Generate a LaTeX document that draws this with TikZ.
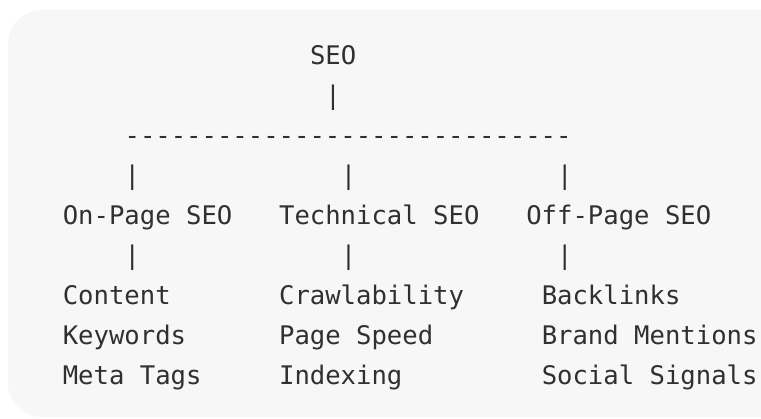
\documentclass[tikz,border=0pt]{standalone}
\usepackage{fontspec}
\newfontfamily\codefont{DejaVu Sans Mono}
\definecolor{bg}{HTML}{F7F7F7}
\definecolor{ink}{HTML}{303030}
\newcommand\cx[1]{62.8+15.45*#1}
\newcommand\ry[1]{65+40*#1}
\begin{document}
\begin{tikzpicture}[x=1pt,y=-1pt,
  txt/.style={anchor=base west, inner sep=0pt, outer sep=0pt, text=ink,
    font=\codefont\fontsize{25.6}{30}\selectfont}]
\useasboundingbox (0,0) rectangle (761,419);
\clip (0,0) rectangle (761,419);
\fill[white] (0,0) rectangle (761,419);
\fill[bg, rounded corners=34pt] (8,10) rectangle (820,417);
% row 0
\node[txt] (seo) at ({\cx{16}},{\ry{0}}) {SEO};
% row 1
\node[txt] (p0) at ({\cx{17}},{\ry{1}}) {|};
% row 2
\node[txt] (bar) at ({\cx{4}},{\ry{2}}) {\foreach \i in {1,...,29}{-\kern0pt}};
% row 3
\node[txt] (p1) at ({\cx{4}},{\ry{3}}) {|};
\node[txt] (p2) at ({\cx{18}},{\ry{3}}) {|};
\node[txt] (p3) at ({\cx{32}},{\ry{3}}) {|};
% row 4
\node[txt] (on) at ({\cx{0}},{\ry{4}}) {On-Page SEO};
\node[txt] (tech) at ({\cx{14}},{\ry{4}}) {Technical SEO};
\node[txt] (off) at ({\cx{30}},{\ry{4}}) {Off-Page SEO};
% row 5
\node[txt] (q1) at ({\cx{4}},{\ry{5}}) {|};
\node[txt] (q2) at ({\cx{18}},{\ry{5}}) {|};
\node[txt] (q3) at ({\cx{32}},{\ry{5}}) {|};
% rows 6-8
\node[txt] (content) at ({\cx{0}},{\ry{6}}) {Content};
\node[txt] (keywords) at ({\cx{0}},{\ry{7}}) {Keywords};
\node[txt] (meta) at ({\cx{0}},{\ry{8}}) {Meta Tags};
\node[txt] (crawl) at ({\cx{14}},{\ry{6}}) {Crawlability};
\node[txt] (speed) at ({\cx{14}},{\ry{7}}) {Page Speed};
\node[txt] (index) at ({\cx{14}},{\ry{8}}) {Indexing};
\node[txt] (back) at ({\cx{31}},{\ry{6}}) {Backlinks};
\node[txt] (brand) at ({\cx{31}},{\ry{7}}) {Brand Mentions};
\node[txt] (social) at ({\cx{31}},{\ry{8}}) {Social Signals};
\end{tikzpicture}
\end{document}
